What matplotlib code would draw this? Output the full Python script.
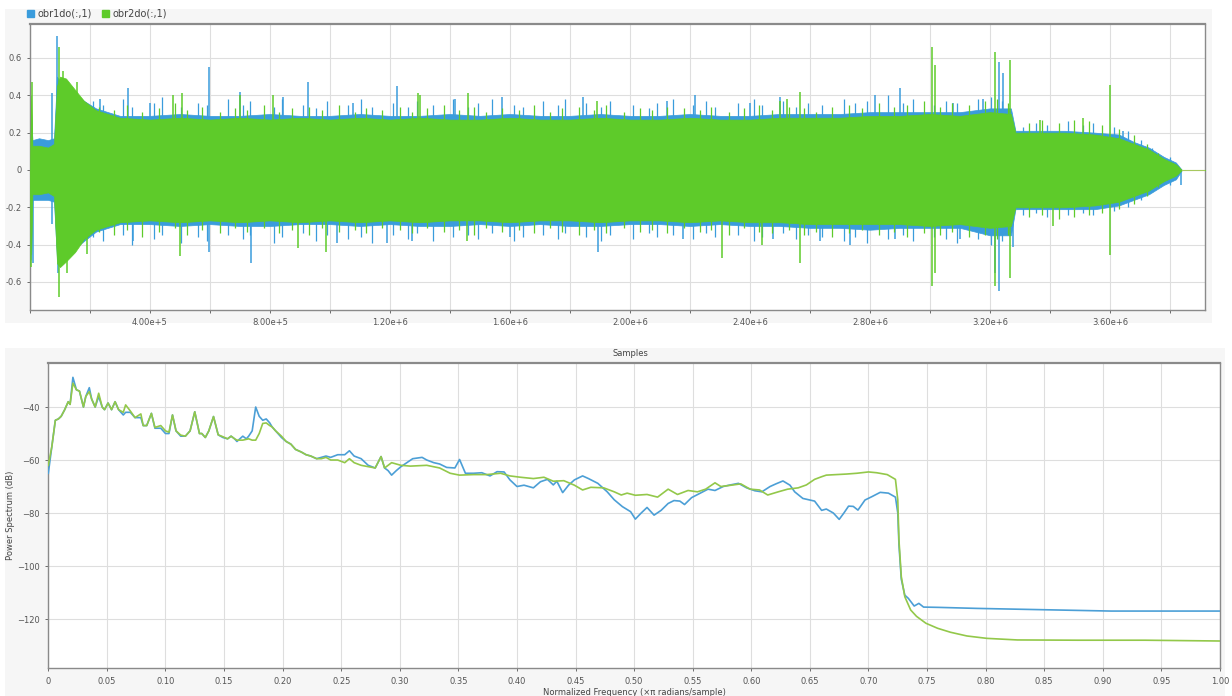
import numpy as np
import matplotlib
matplotlib.use("Agg")
import matplotlib.pyplot as plt
from matplotlib.patches import Patch, Rectangle
from matplotlib.ticker import FuncFormatter, MultipleLocator

# ---------------- waveform (top) ----------------
# sample positions in units of 1e5 samples, envelope
body_x = [0, 0.04, 0.08, 0.3, 0.6, 0.8, 0.9, 1.0, 1.2, 1.5, 1.8, 2.2, 2.6, 3, 4, 5, 6, 7, 8,
          9, 10, 11, 12, 13, 14, 15, 16, 17, 18, 19, 20, 21, 22, 23, 24, 25, 26, 27, 28,
          29, 30, 31, 32, 32.7, 32.85, 33.5, 34.5, 35.5, 36.3, 36.8, 37.3, 37.8, 38.2, 38.4, 39.17]

green_hi = [0.05, 0.40, 0.13, 0.13, 0.12, 0.14, 0.45, 0.50, 0.49, 0.43, 0.37, 0.32, 0.30, 0.28,
            0.27, 0.28, 0.27, 0.28, 0.27, 0.28, 0.27, 0.28, 0.27, 0.28,
            0.27, 0.27, 0.28, 0.27, 0.27, 0.28, 0.27, 0.27, 0.28, 0.27,
            0.27, 0.28, 0.28, 0.28, 0.29, 0.29, 0.30, 0.29, 0.31,
            0.30, 0.20, 0.20, 0.20, 0.19, 0.17, 0.14, 0.11, 0.06, 0.03, 0.0, 0.0]
green_lo = [-0.05, -0.45, -0.13, -0.13, -0.12, -0.14, -0.50, -0.52, -0.49, -0.44, -0.37, -0.32, -0.30, -0.28,
            -0.27, -0.28, -0.27, -0.28, -0.27, -0.28, -0.27, -0.28, -0.27, -0.28,
            -0.27, -0.27, -0.28, -0.27, -0.27, -0.28, -0.27, -0.27, -0.28, -0.27,
            -0.28, -0.28, -0.29, -0.29, -0.29, -0.29, -0.30, -0.29, -0.31,
            -0.30, -0.20, -0.20, -0.20, -0.19, -0.17, -0.14, -0.11, -0.06, -0.03, 0.0, 0.0]
blue_hi = [0.05, 0.30, 0.16, 0.17, 0.16, 0.17, 0.50, 0.47, 0.45, 0.41, 0.37, 0.33, 0.31, 0.29,
           0.29, 0.30, 0.29, 0.29, 0.30, 0.29, 0.29, 0.30, 0.29, 0.29,
           0.30, 0.29, 0.30, 0.29, 0.29, 0.30, 0.29, 0.29, 0.30, 0.29,
           0.29, 0.30, 0.30, 0.30, 0.31, 0.31, 0.31, 0.31, 0.33,
           0.33, 0.21, 0.21, 0.21, 0.20, 0.19, 0.15, 0.12, 0.07, 0.04, 0.0, 0.0]
blue_lo = [-0.05, -0.48, -0.16, -0.16, -0.16, -0.17, -0.48, -0.47, -0.46, -0.42, -0.38, -0.33, -0.31, -0.29,
           -0.29, -0.30, -0.29, -0.30, -0.30, -0.29, -0.29, -0.30, -0.29, -0.30,
           -0.30, -0.29, -0.30, -0.29, -0.30, -0.30, -0.29, -0.29, -0.30, -0.29,
           -0.30, -0.30, -0.31, -0.31, -0.32, -0.31, -0.31, -0.31, -0.35,
           -0.35, -0.21, -0.21, -0.21, -0.21, -0.19, -0.16, -0.13, -0.08, -0.05, 0.0, 0.0]

# ragged edge of the waveform (position in 1e5 samples, height)
blue_fr_x = [2.1, 2.45, 3.1, 3.4, 4.15, 4.4, 5.05, 5.6, 5.9, 6.6,
             7.1, 7.35, 8.15, 8.4, 9.1, 9.55, 9.9, 10.6, 11.05, 11.4,
             12.1, 12.6, 12.9, 13.45, 14.1, 14.6, 14.95, 15.4, 16.15, 16.45,
             17.1, 17.6, 17.85, 18.55, 19.05, 19.35, 20.1, 20.65, 20.9, 21.45,
             22.1, 22.55, 22.85, 23.6, 24.15, 24.4, 25.1, 25.55, 25.95, 26.4,
             27.15, 27.5, 27.9, 28.6, 29.1, 29.45, 30.15, 30.55, 30.9, 31.6,
             32.05, 32.4, 33.1, 33.55, 33.9, 34.6, 35.1, 35.45, 36.15, 36.6,
             37.05, 37.4, 38.0]
blue_fr_up = [0.37, 0.35, 0.38, 0.34, 0.36, 0.39, 0.34, 0.36, 0.35, 0.38,
              0.35, 0.37, 0.34, 0.38, 0.35, 0.33, 0.37, 0.35, 0.38, 0.34,
              0.36, 0.34, 0.37, 0.35, 0.38, 0.34, 0.36, 0.38, 0.35, 0.34,
              0.37, 0.35, 0.38, 0.36, 0.34, 0.37, 0.35, 0.33, 0.36, 0.38,
              0.35, 0.37, 0.34, 0.36, 0.38, 0.35, 0.37, 0.34, 0.36, 0.35,
              0.38, 0.36, 0.37, 0.40, 0.36, 0.38, 0.35, 0.37, 0.36, 0.38,
              0.39, 0.37, 0.23, 0.25, 0.24, 0.26, 0.24, 0.25, 0.23, 0.21,
              0.16, 0.12, 0.07]
blue_fr_dn = [-0.36, -0.38, -0.35, -0.40, -0.37, -0.35, -0.39, -0.36, -0.38, -0.35,
              -0.37, -0.35, -0.39, -0.36, -0.34, -0.38, -0.35, -0.37, -0.36, -0.39,
              -0.35, -0.37, -0.34, -0.38, -0.36, -0.35, -0.37, -0.34, -0.38, -0.36,
              -0.35, -0.37, -0.34, -0.36, -0.38, -0.35, -0.37, -0.34, -0.36, -0.35,
              -0.37, -0.34, -0.36, -0.35, -0.38, -0.36, -0.34, -0.37, -0.35, -0.36,
              -0.38, -0.36, -0.39, -0.37, -0.35, -0.38, -0.36, -0.37, -0.39, -0.37,
              -0.40, -0.38, -0.24, -0.23, -0.25, -0.24, -0.23, -0.24, -0.22, -0.20,
              -0.16, -0.12, -0.08]
green_fr_x = [2.3, 2.8, 3.25, 3.75, 4.3, 4.85, 5.25, 5.75, 6.35, 6.85,
              7.25, 7.8, 8.3, 8.75, 9.3, 9.75, 10.3, 10.85, 11.2, 11.75,
              12.35, 12.75, 13.25, 13.8, 14.3, 14.8, 15.2, 15.75, 16.3, 16.8,
              17.35, 17.75, 18.3, 18.8, 19.2, 19.8, 20.35, 20.75, 21.25, 21.8,
              22.35, 22.7, 23.3, 23.8, 24.3, 24.75, 25.3, 25.8, 26.2, 26.75,
              27.3, 27.75, 28.3, 28.8, 29.25, 29.8, 30.35, 30.75, 31.3, 31.85,
              32.25, 32.6, 33.3, 33.75, 34.3, 34.8, 35.3, 35.75, 36.3, 36.8,
              37.25, 37.6, 38.1]
green_fr_up = [0.34, 0.32, 0.35, 0.31, 0.33, 0.36, 0.32, 0.34, 0.31, 0.33,
               0.32, 0.35, 0.31, 0.33, 0.34, 0.32, 0.35, 0.31, 0.33, 0.32,
               0.34, 0.31, 0.33, 0.35, 0.32, 0.34, 0.31, 0.33, 0.32, 0.35,
               0.31, 0.33, 0.34, 0.32, 0.35, 0.31, 0.33, 0.32, 0.34, 0.33,
               0.32, 0.34, 0.31, 0.33, 0.35, 0.32, 0.34, 0.33, 0.31, 0.34,
               0.35, 0.33, 0.36, 0.34, 0.35, 0.37, 0.34, 0.36, 0.35, 0.37,
               0.38, 0.36, 0.25, 0.27, 0.25, 0.27, 0.26, 0.24, 0.22, 0.19,
               0.14, 0.09, 0.04]
green_fr_dn = [-0.33, -0.35, -0.32, -0.36, -0.33, -0.31, -0.35, -0.32, -0.34, -0.31,
               -0.33, -0.31, -0.34, -0.32, -0.35, -0.31, -0.33, -0.32, -0.34, -0.31,
               -0.32, -0.34, -0.31, -0.33, -0.32, -0.35, -0.31, -0.33, -0.32, -0.34,
               -0.31, -0.33, -0.35, -0.32, -0.34, -0.31, -0.33, -0.32, -0.34, -0.31,
               -0.33, -0.32, -0.35, -0.31, -0.33, -0.34, -0.32, -0.35, -0.33, -0.36,
               -0.34, -0.32, -0.35, -0.33, -0.36, -0.34, -0.35, -0.33, -0.36, -0.35,
               -0.37, -0.35, -0.25, -0.24, -0.26, -0.25, -0.24, -0.23, -0.21, -0.18,
               -0.14, -0.09, -0.04]

# prominent spikes (position in 1e5 samples, peak value)
blue_up_x = [0.72, 0.91, 2.33, 3.26, 4.0, 5.98, 7.0, 8.44, 9.27, 10.78, 12.22, 14.17, 15.72, 18.44,
             21.22, 22.17, 24.0, 25.0, 28.17, 29.0, 30.78, 31.78, 32.31, 32.44, 36.44]
blue_up_y = [0.41, 0.72, 0.38, 0.44, 0.36, 0.55, 0.42, 0.39, 0.47, 0.36, 0.45, 0.38, 0.39, 0.39,
             0.37, 0.40, 0.36, 0.39, 0.40, 0.44, 0.36, 0.38, 0.58, 0.52, 0.21]
blue_dn_x = [0.11, 0.72, 0.94, 3.44, 5.98, 7.36, 10.22, 11.89, 12.72, 16.0, 18.94, 21.78, 24.78,
             26.33, 27.33, 28.83, 31.0, 32.17, 32.31, 32.78, 38.37]
blue_dn_y = [-0.50, -0.29, -0.55, -0.38, -0.44, -0.50, -0.39, -0.39, -0.38, -0.36, -0.44, -0.37,
             -0.37, -0.38, -0.40, -0.37, -0.37, -0.55, -0.65, -0.41, -0.08]
green_up_x = [0.06, 0.98, 1.11, 1.56, 4.78, 5.06, 7.0, 8.11, 12.94, 13.0, 14.61, 18.89, 25.0,
              25.22, 25.67, 30.06, 30.17, 32.17, 32.67, 33.67, 35.11, 36.0]
green_up_y = [0.47, 0.66, 0.53, 0.47, 0.40, 0.41, 0.40, 0.40, 0.41, 0.40, 0.41, 0.37, 0.37,
              0.38, 0.42, 0.66, 0.56, 0.63, 0.59, 0.27, 0.28, 0.455]
green_dn_x = [0.02, 0.98, 1.22, 1.89, 5.0, 8.94, 9.87, 14.56, 23.06, 24.39, 25.67, 30.06, 30.17,
              32.17, 32.67, 34.11, 36.0]
green_dn_y = [-0.52, -0.68, -0.55, -0.45, -0.46, -0.42, -0.44, -0.38, -0.47, -0.40, -0.50, -0.62,
              -0.55, -0.62, -0.58, -0.30, -0.455]

# ---------------- power spectrum (bottom) ----------------
blue_f = [0, 0.003, 0.006, 0.0086, 0.011, 0.014, 0.017, 0.0186, 0.021, 0.024, 0.0266, 0.03, 0.032,
          0.035, 0.037, 0.04, 0.043, 0.046, 0.048, 0.051, 0.054, 0.057, 0.06, 0.064, 0.066, 0.07,
          0.074, 0.079, 0.081, 0.084, 0.088, 0.091, 0.096, 0.10, 0.103, 0.106, 0.109, 0.113, 0.117,
          0.121, 0.125, 0.129, 0.131, 0.134, 0.137, 0.141, 0.145, 0.149, 0.153, 0.156, 0.159, 0.161,
          0.166, 0.169, 0.171, 0.174, 0.177, 0.18, 0.183, 0.186, 0.189, 0.191, 0.194, 0.199, 0.203,
          0.207, 0.211, 0.216, 0.22, 0.224, 0.229, 0.233, 0.237, 0.241, 0.247, 0.253, 0.257, 0.261,
          0.267, 0.273, 0.279, 0.284, 0.287, 0.29, 0.293, 0.297, 0.301, 0.306, 0.311, 0.319, 0.323,
          0.329, 0.334, 0.34, 0.347, 0.351, 0.356, 0.363, 0.37, 0.377, 0.383, 0.389, 0.394, 0.40,
          0.406, 0.414, 0.42, 0.426, 0.431, 0.434, 0.439, 0.444, 0.449, 0.456, 0.461, 0.469, 0.477,
          0.483, 0.49, 0.497, 0.501, 0.506, 0.511, 0.517, 0.523, 0.529, 0.534, 0.539, 0.543, 0.549,
          0.556, 0.563, 0.569, 0.576, 0.581, 0.589, 0.596, 0.603, 0.609, 0.616, 0.621, 0.627, 0.633,
          0.637, 0.644, 0.651, 0.654, 0.66, 0.664, 0.67, 0.675, 0.679, 0.683, 0.687, 0.691, 0.697,
          0.703, 0.71, 0.717, 0.723, 0.725, 0.726, 0.728, 0.731, 0.734, 0.739, 0.743, 0.747, 0.759,
          0.793, 0.85, 0.907, 1.0]
blue_db = [-65, -55, -45, -44.5, -43.5, -41, -38, -39, -28.8, -33.5, -34, -40, -36, -32.7, -37, -40,
           -36, -40, -41, -38.5, -41, -38, -41, -43, -42, -42, -44, -44, -47, -47, -42.4, -48, -48,
           -50, -50, -43, -49, -51, -51, -49, -41.8, -50, -50, -51.5, -49, -43.6, -50.5, -51.5, -52,
           -51, -52, -53, -51, -52, -51, -49, -40, -43.5, -45, -44.5, -46, -47.5, -49, -51.5, -53,
           -54, -56, -57, -58, -58.5, -59.5, -59, -58.5, -59, -58, -58, -56.5, -58.5, -59.5, -62, -63,
           -58.7, -63, -64, -65.7, -64, -62.5, -61, -59.5, -59, -60, -61, -61.5, -62.8, -63, -59.8,
           -65, -65, -64.8, -66, -64.4, -64.5, -67.5, -70, -69.5, -70.5, -68.2, -67.3, -69.4, -68,
           -72.3, -69.5, -67.5, -66, -67, -68.8, -72, -75, -77.6, -79.5, -82.3, -80, -77.9, -80.8,
           -79, -76.4, -75.3, -75.5, -76.8, -74.2, -72.6, -71, -71.5, -70, -69.5, -68.8, -70.5, -71.6,
           -72, -70, -69, -67.9, -69.5, -72, -74.5, -75.2, -75.5, -79, -78.5, -80, -82.4, -80,
           -77.4, -77.5, -78.9, -75.1, -73.8, -72.2, -72.5, -74, -80, -92, -105, -111, -112.2, -115.1,
           -114.1, -115.5, -115.6, -116, -116.5, -117, -117]

green_f = [0, 0.003, 0.006, 0.0086, 0.011, 0.014, 0.017, 0.0186, 0.021, 0.024, 0.0266, 0.03, 0.032,
           0.035, 0.037, 0.04, 0.043, 0.046, 0.048, 0.051, 0.054, 0.057, 0.06, 0.064, 0.066, 0.07,
           0.074, 0.079, 0.081, 0.084, 0.088, 0.091, 0.096, 0.10, 0.103, 0.106, 0.109, 0.113, 0.117,
           0.121, 0.125, 0.129, 0.131, 0.134, 0.137, 0.141, 0.145, 0.149, 0.153, 0.156, 0.159, 0.161,
           0.166, 0.171, 0.174, 0.177, 0.18, 0.183, 0.186, 0.189, 0.191, 0.194, 0.199, 0.203, 0.207,
           0.211, 0.216, 0.22, 0.224, 0.229, 0.233, 0.237, 0.241, 0.247, 0.253, 0.257, 0.261, 0.267,
           0.273, 0.279, 0.284, 0.287, 0.29, 0.293, 0.297, 0.301, 0.309, 0.323, 0.334, 0.343, 0.351,
           0.363, 0.374, 0.386, 0.394, 0.403, 0.414, 0.423, 0.431, 0.44, 0.449, 0.456, 0.463, 0.474,
           0.483, 0.489, 0.494, 0.501, 0.511, 0.52, 0.529, 0.537, 0.546, 0.554, 0.561, 0.569, 0.574,
           0.583, 0.591, 0.599, 0.607, 0.614, 0.623, 0.631, 0.64, 0.647, 0.654, 0.66, 0.664, 0.673,
           0.681, 0.69, 0.70, 0.707, 0.716, 0.723, 0.725, 0.726, 0.728, 0.731, 0.736, 0.741, 0.749,
           0.759, 0.77, 0.784, 0.801, 0.827, 0.879, 0.936, 1.0]
green_db = [-62, -55, -45, -44.5, -43.5, -41, -38, -39, -31, -33.5, -34, -40, -36, -34.2, -37, -40,
            -34.8, -40, -41, -38.5, -41, -38, -41, -42, -39.2, -41.5, -44, -42.6, -47, -47, -42.4,
            -47.7, -47, -49, -49.5, -43, -49, -50.6, -51, -49, -41.8, -50, -50, -51.5, -49, -43.6,
            -50.5, -51.2, -52, -51, -52, -52.5, -52.5, -52, -52.5, -52.5, -50, -46.2, -46, -47,
            -47.5, -49, -51, -53, -54, -56, -57, -58, -58.5, -59.5, -59.5, -59, -60, -60, -61,
            -59.5, -61, -62, -62.5, -63, -58.7, -63, -62, -61, -61.5, -62, -62.3, -62, -63, -65,
            -65.7, -65.5, -65.5, -65, -66, -66.5, -67, -66.5, -68, -67.8, -69.5, -71.3, -70.3,
            -70.5, -72, -73.2, -72.5, -73.3, -73, -74, -71, -73, -71.5, -72, -71, -68.6, -70,
            -69.5, -69, -71, -71.3, -73.2, -72, -71, -70.5, -69.4, -67.3, -66.3, -65.7, -65.5,
            -65.3, -65, -64.5, -64.8, -65.5, -67.3, -75, -90.2, -104, -111.6, -116.6, -119,
            -121.6, -123.5, -125, -126.4, -127.3, -127.9, -128, -128, -128.3]

blue = "#3a9cdc"
green = "#5ecb2a"
blue_psd = "#4c9fd6"
green_psd = "#93c84a"
grid_c = "#dedede"
tick_c = "#555555"

fig = plt.figure(figsize=(12.32, 6.96), dpi=100)
fig.patch.set_facecolor("white")
# light grey panels behind the two plots
fig.patches.append(Rectangle((5 / 1232, 1 - 323 / 696), 1207 / 1232, 314 / 696,
                             transform=fig.transFigure, facecolor="#f6f6f6", edgecolor="none", zorder=-5))
fig.patches.append(Rectangle((5 / 1232, 0), 1220 / 1232, 348 / 696,
                             transform=fig.transFigure, facecolor="#f6f6f6", edgecolor="none", zorder=-5))

ax1 = fig.add_axes([30 / 1232, 1 - 310 / 696, 1175 / 1232, 286 / 696])
ax2 = fig.add_axes([48.3 / 1232, 1 - 668.3 / 696, 1171.7 / 1232, 305 / 696])

# top: waveform envelopes and spikes
bx = np.array(body_x) * 1e5
ax1.fill_between(bx, blue_lo, blue_hi, color=blue, lw=0.5, zorder=2)
ax1.vlines(np.array(blue_fr_x) * 1e5, 0, blue_fr_up, color=blue, lw=0.9, zorder=2)
ax1.vlines(np.array(blue_fr_x) * 1e5, blue_fr_dn, 0, color=blue, lw=0.9, zorder=2)
ax1.vlines(np.array(blue_up_x) * 1e5, 0, blue_up_y, color=blue, lw=1.1, zorder=2)
ax1.vlines(np.array(blue_dn_x) * 1e5, blue_dn_y, 0, color=blue, lw=1.1, zorder=2)
ax1.fill_between(bx, green_lo, green_hi, color=green, lw=0.5, zorder=3)
ax1.vlines(np.array(green_fr_x) * 1e5, 0, green_fr_up, color=green, lw=0.9, zorder=3)
ax1.vlines(np.array(green_fr_x) * 1e5, green_fr_dn, 0, color=green, lw=0.9, zorder=3)
ax1.vlines(np.array(green_up_x) * 1e5, 0, green_up_y, color=green, lw=1.1, zorder=3)
ax1.vlines(np.array(green_dn_x) * 1e5, green_dn_y, 0, color=green, lw=1.1, zorder=3)
ax1.plot([38.4e5, 39.17e5], [0, 0], color="#a8c860", lw=0.8, zorder=3)

ax1.set_xlim(0, 39.17e5)
ax1.set_ylim(-0.75, 0.782)
ax1.xaxis.set_major_locator(MultipleLocator(2e5))
ax1.xaxis.set_major_formatter(FuncFormatter(
    lambda v, p: "" if (v <= 0 or round(v / 2e5) % 2) else "%.2fe+%d" % (v / 10 ** int(np.log10(v)), int(np.log10(v)))))
ax1.set_yticks([-0.6, -0.4, -0.2, 0, 0.2, 0.4, 0.6])
ax1.set_yticklabels(["-0.6", "-0.4", "-0.2", "0", "0.2", "0.4", "0.6"])

# bottom: power spectrum
ax2.plot(blue_f, blue_db, color=blue_psd, lw=1.2, zorder=3)
ax2.plot(green_f, green_db, color=green_psd, lw=1.2, zorder=3)
ax2.set_xlim(0, 1)
ax2.set_ylim(-138.6, -23.5)
ax2.set_xticks(np.arange(0, 1.001, 0.05))
ax2.set_xticklabels(["0"] + ["%.2f" % v for v in np.arange(0.05, 1.001, 0.05)])
ax2.set_yticks([-120, -100, -80, -60, -40])
ax2.set_ylabel("Power Spectrum (dB)", fontsize=6, color="#444444")
ax2.yaxis.set_label_coords(-0.028, 0.5)
ax2.set_xlabel("Normalized Frequency (\u00d7\u03c0 radians/sample)", fontsize=6, color="#444444")
ax2.xaxis.set_label_coords(0.5, -0.066)

for ax in (ax1, ax2):
    ax.set_facecolor("white")
    ax.grid(True, color=grid_c, lw=0.8, zorder=0)
    ax.set_axisbelow(True)
    ax.tick_params(labelsize=6, colors=tick_c, length=2.5, width=0.6)
    for s in ax.spines.values():
        s.set_color("#8a8a8a")
        s.set_linewidth(1.0)
    ax.spines["top"].set_linewidth(1.6)

fig.text(630 / 1232, 1 - 353 / 696, "Samples", fontsize=6, color="#444444", ha="center", va="center")

handles = [Patch(color=blue, label="obr1do(:,1)"), Patch(color=green, label="obr2do(:,1)")]
fig.legend(handles=handles, loc="center left", bbox_to_anchor=(27 / 1232, 1 - 14 / 696), ncol=2,
           frameon=False, fontsize=7, handlelength=0.7, handleheight=0.7, handletextpad=0.4,
           columnspacing=1.0, borderaxespad=0, borderpad=0, labelcolor="#444444")

fig.savefig("out.png", dpi=100)
